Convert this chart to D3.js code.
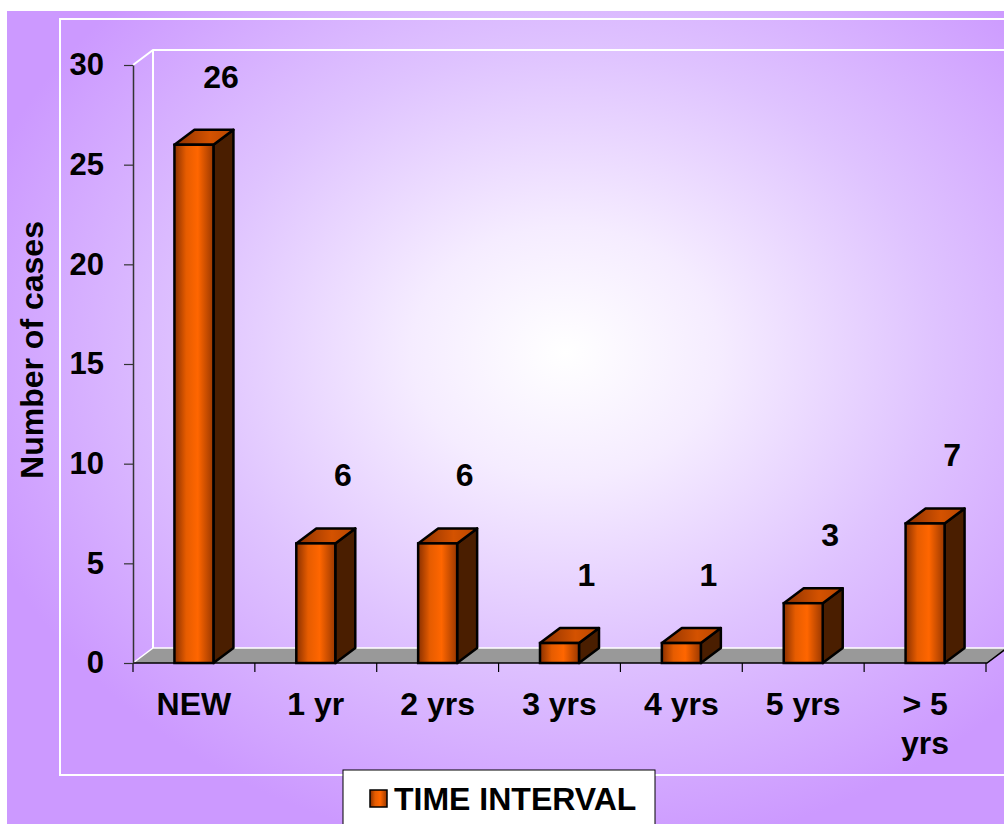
<!DOCTYPE html>
<html>
<head>
<meta charset="utf-8">
<script src="https://cdn.jsdelivr.net/npm/d3@7"></script>
<style>
  body { margin: 0; background: #fff; }
  text { font-family: 'Liberation Sans', Arial, sans-serif; font-weight: bold; fill: #000; }
</style>
</head>
<body>
<svg width="1004" height="824"></svg>
<script>
const categories = ['NEW', '1 yr', '2 yrs', '3 yrs', '4 yrs', '5 yrs', '> 5 yrs']
const tickLabels = [['NEW'], ['1 yr'], ['2 yrs'], ['3 yrs'], ['4 yrs'], ['5 yrs'], ['> 5', 'yrs']]
const cases = [26, 6, 6, 1, 1, 3, 7]
const yTicks = [0, 5, 10, 15, 20, 25, 30]
const seriesName = 'TIME INTERVAL'
const yTitle = 'Number of cases'

const width = 1004
const height = 824
const plot = { left: 133, right: 986, top: 65, bottom: 663 }
const depth = { dx: 20, dy: -15 }

const svg = d3.select('svg')
const defs = svg.append('defs')

// background gradient, light in the middle
const bg = defs.append('radialGradient')
  .attr('id', 'bg')
  .attr('cx', 0.56).attr('cy', 0.42).attr('r', 0.62)
bg.append('stop').attr('offset', 0).attr('stop-color', '#ffffff')
bg.append('stop').attr('offset', 0.25).attr('stop-color', '#f5ecff')
bg.append('stop').attr('offset', 0.6).attr('stop-color', '#dfc3ff')
bg.append('stop').attr('offset', 1).attr('stop-color', '#cc99ff')

const frontGrad = defs.append('linearGradient').attr('id', 'front')
frontGrad.append('stop').attr('offset', 0).attr('stop-color', '#8a3000')
frontGrad.append('stop').attr('offset', 0.3).attr('stop-color', '#e65c00')
frontGrad.append('stop').attr('offset', 0.6).attr('stop-color', '#ff6600')
frontGrad.append('stop').attr('offset', 1).attr('stop-color', '#9a3800')

const topGrad = defs.append('linearGradient').attr('id', 'topface')
topGrad.append('stop').attr('offset', 0).attr('stop-color', '#8a3000')
topGrad.append('stop').attr('offset', 0.6).attr('stop-color', '#d45200')
topGrad.append('stop').attr('offset', 1).attr('stop-color', '#b84600')

svg.append('rect')
  .attr('x', 7).attr('y', 11)
  .attr('width', width - 7).attr('height', height - 11)
  .attr('fill', 'url(#bg)')

// white chart border
svg.append('rect')
  .attr('x', 60).attr('y', 19)
  .attr('width', 960).attr('height', 756)
  .attr('fill', 'none')
  .attr('stroke', '#fff')
  .attr('stroke-width', 2)

// scales
const xCat = d3.scaleBand()
  .domain(categories)
  .range([plot.left, plot.right])

const xBar = d3.scaleBand()
  .domain(categories)
  .range([plot.left, plot.right])
  .paddingInner(0.68)
  .paddingOuter(0.34)

const y = d3.scaleLinear()
  .domain([0, 30])
  .range([plot.bottom, plot.top])

const y0 = y(0)

// back wall edges
const line = d3.line()
svg.append('path')
  .attr('d', line([[plot.left, y(30)], [plot.left + depth.dx, y(30) + depth.dy], [width + 10, y(30) + depth.dy]]))
  .attr('fill', 'none').attr('stroke', '#fff').attr('stroke-width', 2)
svg.append('path')
  .attr('d', line([[plot.left + depth.dx, y(30) + depth.dy], [plot.left + depth.dx, y0 + depth.dy]]))
  .attr('fill', 'none').attr('stroke', '#fff').attr('stroke-width', 2)

// floor
const floorRight = plot.right + 1
svg.append('path')
  .attr('d', line([[plot.left, y0], [floorRight, y0], [floorRight + depth.dx, y0 + depth.dy], [plot.left + depth.dx, y0 + depth.dy]]) + 'Z')
  .attr('fill', '#999')
svg.append('path')
  .attr('d', line([[plot.left, y0], [plot.left + depth.dx, y0 + depth.dy], [width + 10, y0 + depth.dy]]))
  .attr('fill', 'none').attr('stroke', '#fff').attr('stroke-width', 1.5)
svg.append('path')
  .attr('d', line([[plot.left, y0], [floorRight, y0], [floorRight + depth.dx, y0 + depth.dy]]))
  .attr('fill', 'none').attr('stroke', '#000').attr('stroke-width', 1.5)

// x ticks at category boundaries
const bounds = categories.map(c => xCat(c)).concat([plot.right])
svg.append('g').selectAll('line')
  .data(bounds)
  .enter().append('line')
  .attr('x1', d => d).attr('x2', d => d)
  .attr('y1', y0).attr('y2', y0 + 9)
  .attr('stroke', '#000').attr('stroke-width', 1.2)

// y axis
const yAxis = d3.axisLeft(y)
  .tickValues(yTicks)
  .tickSize(9)
  .tickSizeOuter(0)
  .tickPadding(20)

const gy = svg.append('g')
  .attr('transform', `translate(${plot.left},0)`)
  .call(yAxis)
gy.select('.domain').attr('stroke', '#333').attr('stroke-width', 1.5)
gy.selectAll('.tick line').attr('stroke', '#333').attr('stroke-width', 1.2)
gy.selectAll('.tick text')
  .attr('font-size', 31)
  .attr('font-family', null)
  .attr('fill', '#000')

// bars
const w = xBar.bandwidth()
const bar = svg.append('g').selectAll('g')
  .data(cases)
  .enter().append('g')

bar.append('path') // side
  .attr('d', (d, i) => {
    const x0 = xBar(categories[i]) + w
    const yt = y(d)
    return line([[x0, yt], [x0 + depth.dx, yt + depth.dy], [x0 + depth.dx, y0 + depth.dy], [x0, y0]]) + 'Z'
  })
  .attr('fill', '#4a1e00')
  .attr('stroke', '#000').attr('stroke-width', 2.5).attr('stroke-linejoin', 'round')

bar.append('path') // top
  .attr('d', (d, i) => {
    const x0 = xBar(categories[i])
    const yt = y(d)
    return line([[x0, yt], [x0 + depth.dx, yt + depth.dy], [x0 + w + depth.dx, yt + depth.dy], [x0 + w, yt]]) + 'Z'
  })
  .attr('fill', 'url(#topface)')
  .attr('stroke', '#000').attr('stroke-width', 2.5).attr('stroke-linejoin', 'round')

bar.append('rect') // front
  .attr('x', (d, i) => xBar(categories[i]))
  .attr('y', d => y(d))
  .attr('width', w)
  .attr('height', d => y0 - y(d))
  .attr('fill', 'url(#front)')
  .attr('stroke', '#000').attr('stroke-width', 2.5)

// value labels
svg.append('g').selectAll('text')
  .data(cases)
  .enter().append('text')
  .attr('x', (d, i) => xCat(categories[i]) + xCat.bandwidth() / 2 + 27)
  .attr('y', d => y(d) - 57)
  .attr('text-anchor', 'middle')
  .attr('font-size', 32)
  .text(d => d)

// category labels
const lab = svg.append('g').selectAll('text')
  .data(tickLabels)
  .enter().append('text')
  .attr('x', (d, i) => xCat(categories[i]) + xCat.bandwidth() / 2)
  .attr('y', 715)
  .attr('text-anchor', 'middle')
  .attr('font-size', 32)
lab.selectAll('tspan')
  .data(d => d)
  .enter().append('tspan')
  .attr('x', function () { return d3.select(this.parentNode).attr('x') })
  .attr('dy', (d, i) => i === 0 ? 0 : 39)
  .text(d => d)

// y title
svg.append('text')
  .attr('transform', 'translate(43,350) rotate(-90)')
  .attr('text-anchor', 'middle')
  .attr('font-size', 32)
  .text(yTitle)

// legend
svg.append('rect')
  .attr('x', 343).attr('y', 770)
  .attr('width', 312).attr('height', 70)
  .attr('fill', '#fff')
  .attr('stroke', '#000').attr('stroke-width', 1)
svg.append('rect')
  .attr('x', 370).attr('y', 790)
  .attr('width', 17).attr('height', 17)
  .attr('fill', 'url(#front)')
  .attr('stroke', '#000').attr('stroke-width', 1.5)
svg.append('text')
  .attr('x', 394).attr('y', 810)
  .attr('font-size', 32)
  .text(seriesName)
</script>
</body>
</html>
